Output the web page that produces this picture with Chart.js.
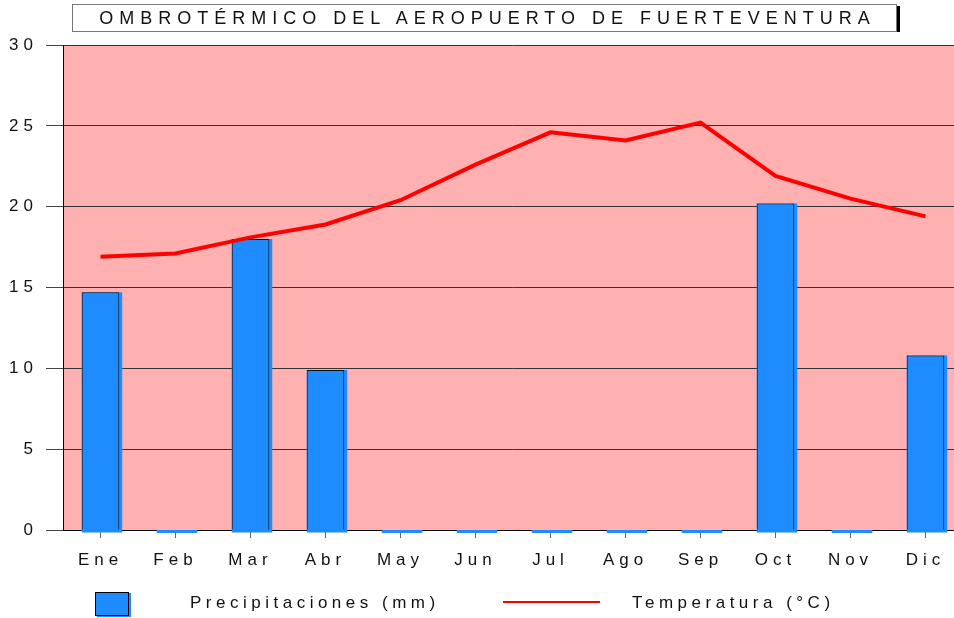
<!DOCTYPE html>
<html>
<head>
<meta charset="utf-8">
<script src="https://cdn.jsdelivr.net/npm/chart.js"></script>
<style>
  html, body { margin: 0; padding: 0; background: #fff; overflow: hidden; width: 954px; height: 618px; }
  #wrap { position: relative; width: 954px; height: 618px; font-family: "Liberation Sans", Arial, sans-serif; color: #111; }
  canvas { position: absolute; left: 0; top: 0; }
  .title {
    position: absolute; left: 72px; top: 4px; width: 823px; height: 26px;
    border: 1px solid #777; box-shadow: 4px 1px 0 -1px #000 ; background: #fff;
    font-size: 18px; letter-spacing: 6px; line-height: 27px; text-align: center; text-indent: 6px;
  }
  .leg { position: absolute; font-size: 17px; letter-spacing: 4.5px; top: 593px; line-height: 20px; }
  .sq { position: absolute; left: 95px; top: 592px; width: 32px; height: 22px; background: #1e8bff; border: 1px solid #000; box-shadow: 2px 1px 0 #1e8bff; }
  .ln { position: absolute; left: 503px; top: 601px; width: 97px; height: 2px; background: #ff0000; }
</style>
</head>
<body>
<div id="wrap">
  <canvas id="myChart" width="963" height="618"></canvas>
  <div class="title">OMBROTÉRMICO DEL AEROPUERTO DE FUERTEVENTURA</div>
  <div class="sq"></div>
  <div class="leg" style="left:190px">Precipitaciones (mm)</div>
  <div class="ln"></div>
  <div class="leg" style="left:632px">Temperatura (°C)</div>
</div>
<script>
const months = ['Ene', 'Feb', 'Mar', 'Abr', 'May', 'Jun', 'Jul', 'Ago', 'Sep', 'Oct', 'Nov', 'Dic'];
const precipitaciones = [14.7, 0, 18.0, 9.9, 0, 0, 0, 0, 0, 20.2, 0, 10.8];
const temperatura = [16.9, 17.1, 18.1, 18.9, 20.4, 22.6, 24.6, 24.1, 25.2, 21.9, 20.5, 19.4];
const yTicks = [0, 5, 10, 15, 20, 25, 30];

// pink plot background + letter spacing for tick text
const fondo = {
  id: 'fondo',
  beforeLayout(chart) { chart.ctx.letterSpacing = '5px'; },
  beforeDraw(chart) {
    const ctx = chart.ctx, a = chart.chartArea;
    ctx.letterSpacing = '5px';
    ctx.save();
    ctx.fillStyle = '#ffb0b0';
    ctx.fillRect(a.left, a.top, a.right - a.left, a.bottom - a.top);
    ctx.restore();
  }
};

// blue offset under each bar (the "3d" look of the original)
const sombra = {
  id: 'sombra',
  beforeDatasetsDraw(chart) {
    const ctx = chart.ctx;
    const meta = chart.getDatasetMeta(0);
    ctx.save();
    ctx.fillStyle = '#1e8bff';
    meta.data.forEach(bar => {
      const left = bar.x - bar.width / 2;
      ctx.fillRect(left, bar.y, bar.width + 3, bar.base - bar.y + 3);
    });
    ctx.restore();
  }
};

const ctx = document.getElementById('myChart');

new Chart(ctx, {
  data: {
    labels: months,
    datasets: [{
      type: 'bar',
      label: 'Precipitaciones (mm)',
      data: precipitaciones,
      backgroundColor: '#1e8bff',
      borderColor: '#111',
      borderWidth: 1,
      barPercentage: 0.5,
      categoryPercentage: 1,
      order: 1
    }, {
      type: 'line',
      label: 'Temperatura (°C)',
      data: temperatura,
      borderColor: '#ff0000',
      borderWidth: 4,
      pointRadius: 0,
      tension: 0,
      order: 0
    }]
  },
  options: {
    responsive: false,
    animation: false,
    layout: { padding: { top: 45, right: 0, left: 0, bottom: 0 } },
    plugins: {
      legend: { display: false },
      tooltip: { enabled: false }
    },
    scales: {
      x: {
        afterFit(scale) { scale.height = 88; },
        grid: { drawOnChartArea: false, offset: false, tickLength: 8, tickColor: '#666' },
        border: { color: '#000', width: 1 },
        ticks: { color: '#111', padding: 12, font: { family: 'Liberation Sans', size: 17 } }
      },
      y: {
        min: 0,
        max: 30,
        afterFit(scale) { scale.width = 63; },
        afterBuildTicks(scale) { scale.ticks = yTicks.map(v => ({ value: v })); },
        grid: { color: '#333', lineWidth: 1, tickLength: 17, tickColor: '#444' },
        border: { color: '#000', width: 1 },
        ticks: { color: '#111', padding: 8, font: { family: 'Liberation Sans', size: 17 } }
      }
    }
  },
  plugins: [fondo, sombra]
});
</script>
</body>
</html>
